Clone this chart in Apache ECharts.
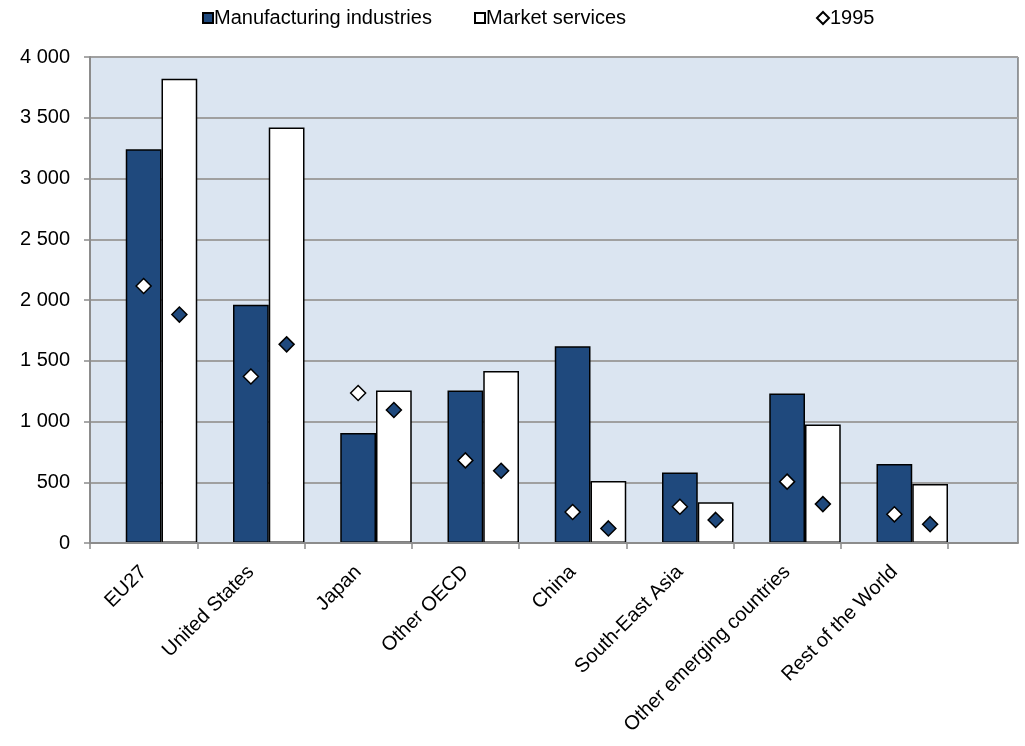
<!DOCTYPE html>
<html>
<head>
<meta charset="utf-8">
<script src="https://cdn.jsdelivr.net/npm/echarts@6/dist/echarts.min.js"></script>
<style>
  html, body { margin: 0; padding: 0; background: #ffffff; }
  #chart { width: 1025px; height: 746px; }
</style>
</head>
<body>
<div id="chart"></div>
<script>
// Value added by region, manufacturing vs market services, with 1995 levels
const categories = ['EU27', 'United States', 'Japan', 'Other OECD', 'China',
  'South-East Asia', 'Other emerging countries', 'Rest of the World'];
const manufacturing = [3240, 1960, 905, 1255, 1620, 580, 1230, 650];
const marketServices = [3820, 3420, 1255, 1415, 510, 335, 975, 485];
const manufacturing1995 = [2115, 1370, 1235, 680, 255, 298, 505, 236];
const marketServices1995 = [1880, 1635, 1095, 595, 120, 190, 320, 155];
const yTicks = { min: 0, max: 4000, interval: 500 };

const NAVY = '#1F497D';
const FONT = 'Liberation Sans, Arial, sans-serif';
const FS = 20;

// Bar grid geometry: three bar slots per category, the first one left empty
const barGridLeft = 90, barGridWidth = 858;
const slot = barGridWidth / categories.length / 3;

const chart = echarts.init(document.getElementById('chart'));

function fmt(v) {
  return String(v).replace(/\B(?=(\d{3})+(?!\d))/g, ' ');
}

const legendText = { fontSize: FS, color: '#000', fontFamily: FONT, padding: [0, 0, 0, -4] };

chart.setOption({
  animation: false,
  textStyle: { fontFamily: FONT },
  legend: [
    { data: [{ name: 'Manufacturing industries', icon: 'rect' }], left: 202, top: 8, padding: 0,
      itemWidth: 10, itemHeight: 10, textStyle: legendText },
    { data: [{ name: 'Market services', icon: 'rect' }], left: 474, top: 8, padding: 0,
      itemWidth: 10, itemHeight: 10, textStyle: legendText },
    { data: [{ name: '1995', icon: 'diamond' }], left: 816, top: 8, padding: 0,
      itemWidth: 12, itemHeight: 12, textStyle: legendText }
  ],
  grid: [
    { left: barGridLeft, top: 57, width: barGridWidth, height: 486, containLabel: false },
    { left: 90, top: 57, width: 928, height: 486, show: true,
      backgroundColor: '#DBE5F1', borderColor: '#404040', borderWidth: 1 }
  ],
  xAxis: [
    {
      type: 'category', gridIndex: 0, data: categories, boundaryGap: true, z: 5,
      axisLine: { lineStyle: { color: '#8c8c8c', width: 2 } },
      axisTick: { show: true, length: 6, interval: 0, lineStyle: { color: '#8c8c8c', width: 1.5 } },
      axisLabel: { interval: 0, rotate: 45, margin: 26, fontSize: FS, color: '#000', fontFamily: FONT }
    },
    {
      type: 'value', gridIndex: 1, min: 0, max: 1,
      axisLine: { show: true, lineStyle: { color: '#8c8c8c', width: 2 } },
      axisTick: { show: false }, axisLabel: { show: false }, splitLine: { show: false }
    }
  ],
  yAxis: [
    {
      type: 'value', gridIndex: 0, min: yTicks.min, max: yTicks.max, interval: yTicks.interval,
      show: false
    },
    {
      type: 'value', gridIndex: 1, min: yTicks.min, max: yTicks.max, interval: yTicks.interval,
      axisLine: { show: true, lineStyle: { color: '#8c8c8c', width: 2 } },
      axisTick: { show: true, length: 6, lineStyle: { color: '#8c8c8c', width: 1.5 } },
      axisLabel: { margin: 20, fontSize: FS, color: '#000', fontFamily: FONT, formatter: fmt },
      splitLine: { show: true, lineStyle: { color: '#a0a0a0', width: 2 } }
    }
  ],
  series: [
    { name: 'gap', type: 'bar', xAxisIndex: 0, yAxisIndex: 0, data: [],
      barGap: '0%', barCategoryGap: '0%' },
    { name: 'Manufacturing industries', type: 'bar', xAxisIndex: 0, yAxisIndex: 0,
      data: manufacturing, barGap: '0%', barCategoryGap: '0%', z: 3,
      itemStyle: { color: NAVY, borderColor: '#000', borderWidth: 1.5 } },
    { name: 'Market services', type: 'bar', xAxisIndex: 0, yAxisIndex: 0,
      data: marketServices, barGap: '0%', barCategoryGap: '0%', z: 3,
      itemStyle: { color: '#ffffff', borderColor: '#000', borderWidth: 1.5 } },
    { name: '1995', type: 'scatter', xAxisIndex: 0, yAxisIndex: 0,
      data: manufacturing1995, symbol: 'diamond', symbolSize: 15, z: 6,
      itemStyle: { color: '#ffffff', borderColor: '#000', borderWidth: 1.5, opacity: 1 } },
    { name: '1995', type: 'scatter', xAxisIndex: 0, yAxisIndex: 0,
      data: marketServices1995, symbol: 'diamond', symbolSize: 15, z: 6,
      symbolOffset: [slot, 0],
      itemStyle: { color: NAVY, borderColor: '#000', borderWidth: 1.5, opacity: 1 } }
  ]
});
</script>
</body>
</html>
